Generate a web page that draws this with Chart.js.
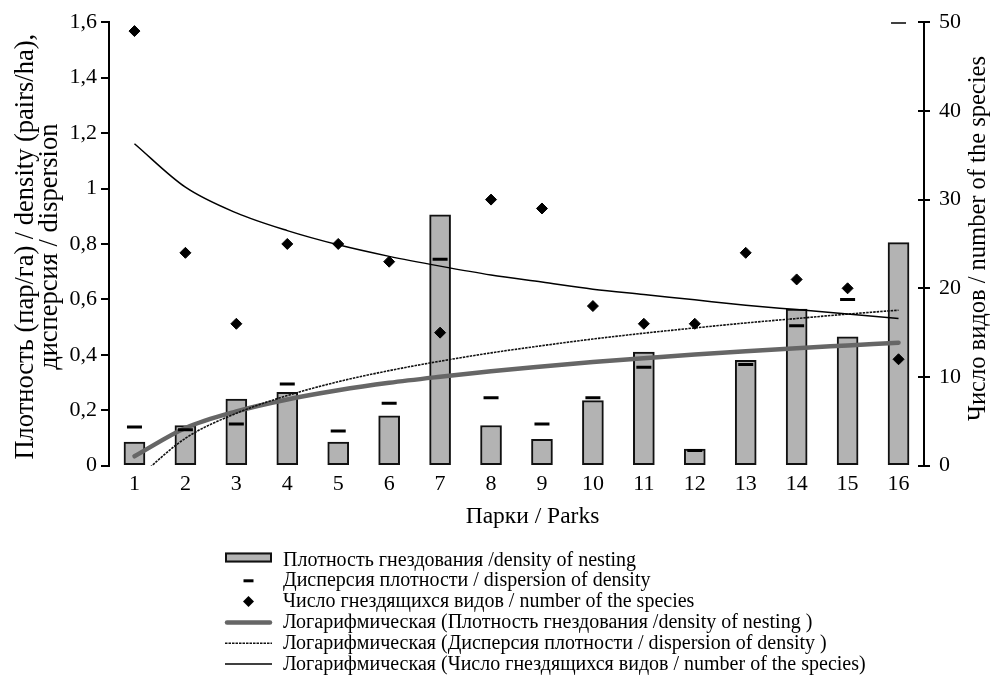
<!DOCTYPE html>
<html>
<head>
<meta charset="utf-8">
<title>Плотность гнездования в парках</title>
<style>
  html, body { margin: 0; padding: 0; background: #ffffff; }
  #wrap { width: 993px; height: 683px; }
</style>
<script src="https://cdn.jsdelivr.net/npm/chart.js@4.4.1/dist/chart.umd.min.js"></script>
</head>
<body>
<div id="wrap"><canvas id="chart" width="993" height="683"></canvas></div>
<script>
// Parks 1..16
const parks = ['1','2','3','4','5','6','7','8','9','10','11','12','13','14','15','16'];

// Nesting density, pairs/ha (left axis)
const density = [0.085, 0.145, 0.24, 0.265, 0.085, 0.18, 0.905, 0.145, 0.095, 0.235, 0.41, 0.06, 0.38, 0.565, 0.465, 0.805];

// Dispersion of density (left axis)
const dispersion = [0.14, 0.13, 0.15, 0.295, 0.125, 0.225, 0.745, 0.245, 0.15, 0.245, 0.355, 0.055, 0.365, 0.505, 0.6, 1.6];

// Number of nesting species (right axis)
const species = [49, 24, 16, 25, 25, 23, 15, 30, 29, 18, 16, 16, 24, 21, 20, 12];

// Logarithmic trend lines, value at each park
const densityTrend    = [0.034, 0.136, 0.196, 0.239, 0.272, 0.299, 0.321, 0.341, 0.358, 0.374, 0.388, 0.401, 0.413, 0.424, 0.434, 0.444];
const dispersionTrend = [-0.055, 0.099, 0.189, 0.253, 0.303, 0.343, 0.377, 0.407, 0.433, 0.457, 0.478, 0.497, 0.515, 0.531, 0.547, 0.561];
const speciesTrend    = [36.3, 31.4, 28.5, 26.5, 24.9, 23.6, 22.5, 21.5, 20.7, 19.9, 19.3, 18.7, 18.1, 17.6, 17.1, 16.6];

// Axis titles and legend labels
const xTitle = 'Парки / Parks';
const yTitleLines = ['Плотность (пар/га) / density (pairs/ha),', 'дисперсия / dispersion'];
const y2Title = 'Число видов / number of the species';
const legendLabels = [
  'Плотность гнездования /density of nesting',
  'Дисперсия плотности / dispersion of density',
  'Число гнездящихся видов / number of the species',
  'Логарифмическая (Плотность гнездования /density of nesting )',
  'Логарифмическая (Дисперсия плотности / dispersion of density )',
  'Логарифмическая (Число гнездящихся видов / number of the species)'
];

const FONT = '"Liberation Serif", "Times New Roman", serif';
const BAR_FILL = '#b3b3b3';
const TREND_GRAY = '#666666';
const DOT_DASH = [2.5, 1];

Chart.defaults.font.family = FONT;
Chart.defaults.color = '#000000';

const fmtLeft = v => {
  const r = Math.round(v * 10) / 10;
  return String(r).replace('.', ',');
};

// Titles, legend and the inner half of the right-axis ticks
const decorations = {
  id: 'decorations',
  afterDraw(chart) {
    const ctx = chart.ctx;
    const y2 = chart.scales.y2;
    ctx.save();

    // right axis: tick marks cross the axis line
    ctx.strokeStyle = '#000';
    ctx.lineWidth = 2;
    y2.ticks.forEach(t => {
      const py = Math.round(y2.getPixelForValue(t.value));
      ctx.beginPath();
      ctx.moveTo(y2.left - 6, py);
      ctx.lineTo(y2.left, py);
      ctx.stroke();
    });

    ctx.fillStyle = '#000';

    // x axis title
    ctx.font = '23.5px ' + FONT;
    ctx.textAlign = 'center';
    ctx.textBaseline = 'alphabetic';
    ctx.fillText(xTitle, 532.5, 523);

    // left axis title, two lines, reading bottom to top
    ctx.save();
    ctx.translate(0, 246.7);
    ctx.rotate(-Math.PI / 2);
    ctx.font = '26.5px ' + FONT;
    ctx.textAlign = 'center';
    ctx.fillText(yTitleLines[0], 0, 33);
    ctx.fillText(yTitleLines[1], 0, 56.5);
    ctx.restore();

    // right axis title, reading bottom to top
    ctx.save();
    ctx.translate(0, 238.5);
    ctx.rotate(-Math.PI / 2);
    ctx.font = '24.5px ' + FONT;
    ctx.textAlign = 'center';
    ctx.fillText(y2Title, 0, 985);
    ctx.restore();

    // legend
    const sx0 = 225, sx1 = 272, tx = 283, base0 = 565.5, step = 20.8;
    const mid = (sx0 + sx1) / 2;
    ctx.font = '20px ' + FONT;
    ctx.textAlign = 'left';
    legendLabels.forEach((label, i) => {
      const by = base0 + step * i;
      const cy = by - 5.5;
      ctx.save();
      if (i === 0) {
        ctx.fillStyle = BAR_FILL;
        ctx.fillRect(sx0, by - 13, sx1 - sx0, 10);
        ctx.strokeStyle = '#111';
        ctx.lineWidth = 2;
        ctx.strokeRect(sx0 + 1, by - 12, sx1 - sx0 - 2, 8);
      } else if (i === 1) {
        ctx.strokeStyle = '#000';
        ctx.lineWidth = 3;
        ctx.beginPath();
        ctx.moveTo(mid - 5, cy);
        ctx.lineTo(mid + 5, cy);
        ctx.stroke();
      } else if (i === 2) {
        ctx.fillStyle = '#000';
        ctx.beginPath();
        ctx.moveTo(mid - 5.5, cy);
        ctx.lineTo(mid, cy - 5.5);
        ctx.lineTo(mid + 5.5, cy);
        ctx.lineTo(mid, cy + 5.5);
        ctx.closePath();
        ctx.fill();
      } else {
        ctx.beginPath();
        if (i === 3) {
          ctx.strokeStyle = TREND_GRAY;
          ctx.lineWidth = 4.5;
          ctx.lineCap = 'round';
        } else if (i === 4) {
          ctx.strokeStyle = '#111';
          ctx.lineWidth = 1.6;
          ctx.setLineDash(DOT_DASH);
        } else {
          ctx.strokeStyle = '#000';
          ctx.lineWidth = 1.5;
        }
        ctx.moveTo(sx0 + (i === 3 ? 2 : 0), cy);
        ctx.lineTo(sx1 - (i === 3 ? 2 : 0), cy);
        ctx.stroke();
      }
      ctx.restore();
      ctx.fillStyle = '#000';
      ctx.fillText(label, tx, by);
    });

    ctx.restore();
  }
};

new Chart(document.getElementById('chart'), {
  type: 'bar',
  data: {
    labels: parks,
    datasets: [
      {
        type: 'line',
        label: legendLabels[2],
        data: species,
        yAxisID: 'y2',
        showLine: false,
        pointStyle: 'rectRot',
        pointRadius: 5.5,
        pointBorderWidth: 1,
        pointBackgroundColor: '#000',
        pointBorderColor: '#000',
        order: 1
      },
      {
        type: 'line',
        label: legendLabels[1],
        data: dispersion,
        yAxisID: 'y',
        showLine: false,
        pointStyle: 'line',
        pointRadius: 7.5,
        pointBorderWidth: 3,
        pointBorderColor: '#000',
        order: 2
      },
      {
        type: 'line',
        label: legendLabels[5],
        data: speciesTrend,
        yAxisID: 'y2',
        borderColor: '#000',
        borderWidth: 1.5,
        pointRadius: 0,
        cubicInterpolationMode: 'monotone',
        order: 3
      },
      {
        type: 'line',
        label: legendLabels[4],
        data: dispersionTrend,
        yAxisID: 'y',
        borderColor: '#111',
        borderWidth: 1.6,
        borderDash: DOT_DASH,
        pointRadius: 0,
        cubicInterpolationMode: 'monotone',
        order: 4
      },
      {
        type: 'line',
        label: legendLabels[3],
        data: densityTrend,
        yAxisID: 'y',
        borderColor: TREND_GRAY,
        borderWidth: 4.5,
        borderCapStyle: 'round',
        pointRadius: 0,
        cubicInterpolationMode: 'monotone',
        order: 5
      },
      {
        type: 'bar',
        label: legendLabels[0],
        data: density,
        yAxisID: 'y',
        backgroundColor: BAR_FILL,
        borderColor: '#111',
        borderWidth: 2,
        borderSkipped: false,
        barThickness: 21,
        order: 10
      }
    ]
  },
  options: {
    responsive: false,
    devicePixelRatio: 1,
    animation: false,
    events: [],
    layout: { padding: { top: 18, left: 0, right: 0, bottom: 0 } },
    plugins: {
      legend: { display: false },
      tooltip: { enabled: false }
    },
    scales: {
      x: {
        type: 'category',
        offset: true,
        border: { display: false },
        grid: { display: false, drawTicks: false },
        ticks: { font: { size: 22 }, color: '#000', padding: 5, maxRotation: 0, autoSkip: false },
        afterFit(scale) { scale.height = 217.3; }
      },
      y: {
        position: 'left',
        min: 0,
        max: 1.6,
        border: { display: true, color: '#000', width: 2 },
        grid: { drawOnChartArea: false, color: '#000', lineWidth: 2, tickLength: 8 },
        ticks: { stepSize: 0.2, font: { size: 22 }, color: '#000', padding: 4, callback: v => fmtLeft(v) },
        afterFit(scale) { scale.width = 109; }
      },
      y2: {
        position: 'right',
        min: 0,
        max: 50,
        border: { display: true, color: '#000', width: 2 },
        grid: { drawOnChartArea: false, color: '#000', lineWidth: 2, tickLength: 6 },
        ticks: { stepSize: 10, font: { size: 22 }, color: '#000', padding: 9 },
        afterFit(scale) { scale.width = 69; }
      }
    }
  },
  plugins: [decorations]
});
</script>
</body>
</html>
